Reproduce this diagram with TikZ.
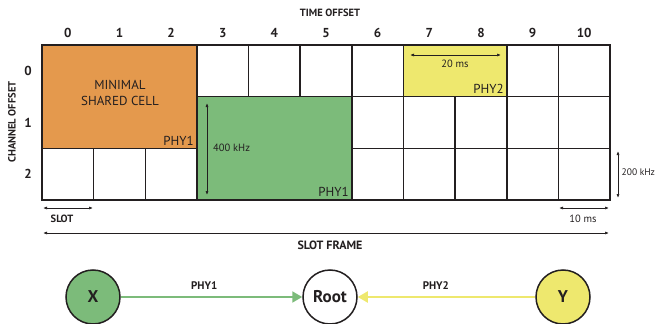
\documentclass[tikz,border=0pt]{standalone}
\usepackage{fontspec}
\setmainfont{PT Sans}
\usepackage{xcolor}
\usetikzlibrary{arrows.meta,positioning,calc}
\definecolor{SlotOrange}{HTML}{E4994D}
\definecolor{SlotGreen} {HTML}{7CBB7A}
\definecolor{SlotYellow}{HTML}{EEE86E}
\definecolor{SlotInk}   {HTML}{231F20}
\tikzset{
  cellbox/.style={draw=SlotInk,line width=1.5pt},
  dimline/.style={SlotInk,line width=0.7pt,{Latex[length=4pt,width=3pt]}-{Latex[length=4pt,width=3pt]}},
  dimlabel/.style={font=\fontsize{10.5}{12}\selectfont,text=SlotInk,inner sep=1pt},
  axislabel/.style={font=\fontsize{13}{15}\selectfont\bfseries,text=SlotInk},
  phylabel/.style={font=\fontsize{13}{15}\selectfont,text=SlotInk,inner sep=2pt},
  nodecirc/.style={circle,draw=SlotInk,line width=1.5pt,minimum size=54pt,inner sep=0pt,
                   font=\fontsize{17}{19}\selectfont\bfseries,text=SlotInk},
  linkarrow/.style={line width=2pt,-{Triangle[length=10pt,width=11pt]}}
}

\begin{document}
\begin{tikzpicture}[x=1pt,y=-1pt]
    \useasboundingbox (0,0) rectangle (657,324);
    % Slot grid, one unit = one cell
    \begin{scope}[xshift=42pt,yshift=-45pt,x=51.64pt,y=-51.67pt]
      % Scheduled cells
      \filldraw[cellbox,fill=SlotOrange] (0,0) rectangle (3,2);
      \filldraw[cellbox,fill=SlotGreen]  (3,1) rectangle (6,3);
      \filldraw[cellbox,fill=SlotYellow] (7,0) rectangle (9,1);
      % Empty cells
      \foreach \c in {3,4,5,6,9,10} \draw[cellbox] (\c,0) rectangle ++(1,1);
      \foreach \c in {6,...,10}     \draw[cellbox] (\c,1) rectangle ++(1,1);
      \foreach \c in {0,1,2,6,7,8,9,10} \draw[cellbox] (\c,2) rectangle ++(1,1);
      % Offset labels
      \foreach \c in {0,...,10}
        \node[axislabel] (col\c) at (\c+0.5,-0.23) {\c};
      \foreach \r in {0,1,2}
        \node[axislabel] (row\r) at (-0.27,\r+0.5) {\r};
    \end{scope}
    % Axis titles
    \node[font=\fontsize{10.5}{12}\selectfont\bfseries,text=SlotInk] (timeoff) at (330,13) {TIME OFFSET};
    \node[font=\fontsize{10.5}{12}\selectfont\bfseries,text=SlotInk,rotate=90] (chanoff) at (12,122) {CHANNEL OFFSET};
    % Cell texts
    \node[align=center,font=\fontsize{13}{16}\selectfont,text=SlotInk] (shared) at (120,93) {MINIMAL\\SHARED CELL};
    \node[phylabel,anchor=south east] (phyorange) at (196,148) {PHY1};
    \node[phylabel,anchor=south east] (phygreen)  at (351,199) {PHY1};
    \node[phylabel,anchor=south east] (phyyellow) at (506,96)  {PHY2};
    % Dimension arrows
    \coordinate (bwtop) at (207,103);  \coordinate (bwbot) at (207,195);
    \draw[dimline] (bwtop) -- (bwbot);
    \node[dimlabel,anchor=west] (bwlabel) at (212,148) {400 kHz};
    \coordinate (durl) at (410,55);    \coordinate (durr) at (501,55);
    \draw[dimline] (durl) -- (durr);
    \node[dimlabel] (durlabel) at (455,64) {20 ms};
    \coordinate (chtop) at (618,151);  \coordinate (chbot) at (618,198);
    \draw[dimline] (chtop) -- (chbot);
    \node[dimlabel,anchor=west,font=\fontsize{9.5}{11}\selectfont] (chlabel) at (620.5,172) {200 kHz};
    \coordinate (tsl) at (559,208);    \coordinate (tsr) at (609,208);
    \draw[dimline] (tsl) -- (tsr);
    \node[dimlabel] (tslabel) at (583,219) {10 ms};
    \coordinate (slotl) at (43,208);   \coordinate (slotr) at (93,208);
    \draw[dimline] (slotl) -- (slotr);
    \node[dimlabel,font=\fontsize{10.5}{12}\selectfont\bfseries] (slotlabel) at (62,219) {SLOT};
    \coordinate (framel) at (43,233);  \coordinate (framer) at (609,233);
    \draw[dimline] (framel) -- (framer);
    \node[font=\fontsize{12}{14}\selectfont\bfseries,text=SlotInk] (framelabel) at (330,245) {SLOT FRAME};
    % Nodes and links
    \node[nodecirc,fill=SlotGreen]  (X)    at (93,297)  {X};
    \node[nodecirc,fill=white]      (Root) at (330,297) {Root};
    \node[nodecirc,fill=SlotYellow] (Y)    at (563,297) {Y};
    \draw[linkarrow,SlotGreen]  (X) -- node[pos=0.46,above=3pt,font=\fontsize{11}{13}\selectfont\bfseries,text=SlotInk] {PHY1} (Root);
    \draw[linkarrow,SlotYellow] (Y) -- node[pos=0.56,above=3pt,font=\fontsize{11}{13}\selectfont\bfseries,text=SlotInk] {PHY2} (Root);
  \end{tikzpicture}
\end{document}
